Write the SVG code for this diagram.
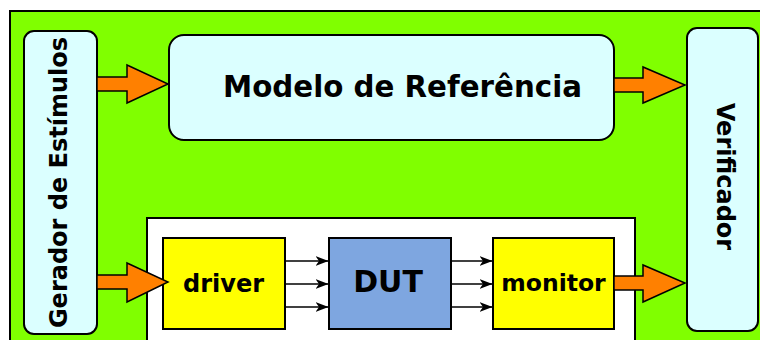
<svg xmlns="http://www.w3.org/2000/svg" width="760" height="340" viewBox="0 0 760 340">
<style>
.bg{fill:#80ff00;stroke:#000;stroke-width:2}
.lb{fill:#dbffff;stroke:#000;stroke-width:2}
.yb{fill:#ffff00;stroke:#000;stroke-width:2}
.db{fill:#7ea6e0;stroke:#000;stroke-width:2}
.wb{fill:#fff;stroke:#000;stroke-width:2}
.oa{fill:#ff8000;stroke:#000;stroke-width:1.5;stroke-linejoin:miter}
.ln{stroke:#000;stroke-width:1.5;fill:none}
text{font-family:"DejaVu Sans",Verdana,sans-serif;font-weight:bold;fill:#000}
</style>
<defs>
<marker id="ah" viewBox="0 0 13 10" refX="12.5" refY="5" markerWidth="13" markerHeight="10" markerUnits="userSpaceOnUse" orient="auto">
<path d="M0,0 L13,5 L0,10 L3.5,5 Z" fill="#000"/>
</marker>
</defs>
<rect class="bg" x="10" y="11" width="760" height="340"/>
<rect class="wb" x="147" y="218" width="488" height="140"/>
<g id="gerador">
<rect class="lb" x="24" y="31" width="73" height="303" rx="10"/>
<text transform="translate(67,182.5) rotate(-90)" text-anchor="middle" font-size="24">Gerador de Estímulos</text>
</g>
<g id="modelo">
<rect class="lb" x="169" y="35" width="445" height="105" rx="15"/>
<text x="402.5" y="97" text-anchor="middle" font-size="29.3">Modelo de Referência</text>
</g>
<g id="verificador">
<rect class="lb" x="687" y="28" width="71" height="303" rx="10"/>
<text transform="translate(717,176.5) rotate(90)" text-anchor="middle" font-size="24">Verificador</text>
</g>
<g id="driver">
<rect class="yb" x="163" y="238" width="122" height="91"/>
<text x="223.5" y="292" text-anchor="middle" font-size="24">driver</text>
</g>
<g id="dut">
<rect class="db" x="329" y="238" width="122" height="91"/>
<text x="388" y="292" text-anchor="middle" font-size="30">DUT</text>
</g>
<g id="monitor">
<rect class="yb" x="493" y="238" width="121" height="91"/>
<text x="553.5" y="291" text-anchor="middle" font-size="23.5">monitor</text>
</g>
<g id="connectors">
<polygon class="oa" points="97,77 127,77 127,65 168,84 127,103 127,91 97,91"/>
<polygon class="oa" points="97,275 127,275 127,263 168,282 127,302 127,289 97,289"/>
<polygon class="oa" points="614,78 643,78 643,67 685,85 643,103 643,92 614,92"/>
<polygon class="oa" points="614,276 643,276 643,265 685,283 643,302 643,290 614,290"/>
<line class="ln" x1="285" y1="261" x2="328" y2="261" marker-end="url(#ah)"/>
<line class="ln" x1="285" y1="284" x2="328" y2="284" marker-end="url(#ah)"/>
<line class="ln" x1="285" y1="307" x2="328" y2="307" marker-end="url(#ah)"/>
<line class="ln" x1="451" y1="261" x2="492" y2="261" marker-end="url(#ah)"/>
<line class="ln" x1="451" y1="284" x2="492" y2="284" marker-end="url(#ah)"/>
<line class="ln" x1="451" y1="307" x2="492" y2="307" marker-end="url(#ah)"/>
</g>
</svg>
